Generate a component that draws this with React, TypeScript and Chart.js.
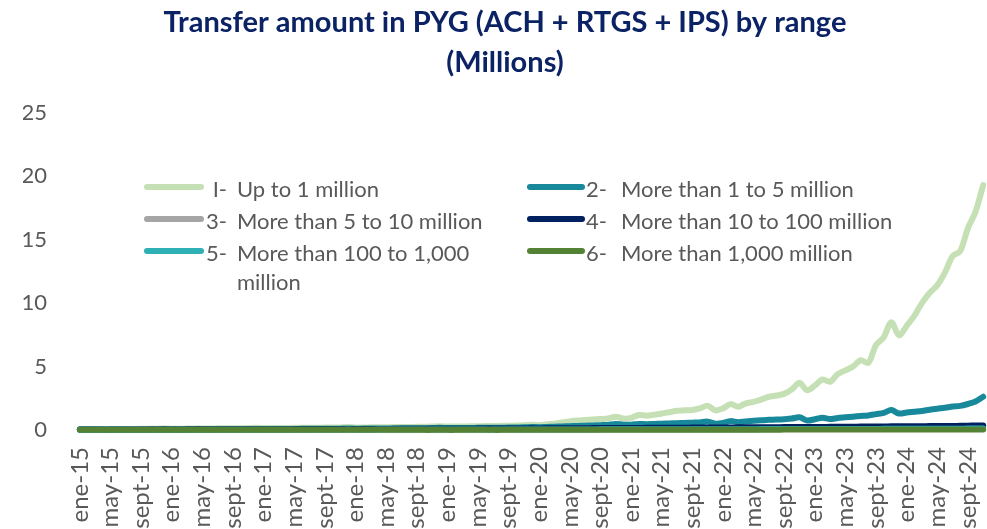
import React, { useEffect, useRef } from 'react';
import { Chart, registerables } from 'chart.js';

Chart.register(...registerables);

// ---- Data ----
const MONTHS = ['ene', 'feb', 'mar', 'abr', 'may', 'jun', 'jul', 'ago', 'sept', 'oct', 'nov', 'dic'];
const YEARS = ['15', '16', '17', '18', '19', '20', '21', '22', '23', '24'];
const MONTHS_IN_LAST_YEAR = 11; // data ends nov-24

const TITLE_LINES = ['Transfer amount in PYG (ACH + RTGS + IPS) by range', '(Millions)'];
const Y_TICKS = [0, 5, 10, 15, 20, 25];

const SERIES_PREFIX = ['I-', '2-', '3-', '4-', '5-', '6-'];
const SERIES_NAMES = [
  'Up to 1 million',
  'More than 1 to 5 million',
  'More than 5 to 10 million',
  'More than 10 to 100 million',
  'More than 100 to 1,000 million',
  'More than 1,000 million',
];
const SERIES_COLORS = ['#C5E0B4', '#17899A', '#A5A5A5', '#002060', '#2FB0B4', '#548235'];

const S1 = [
  0.05, 0.05, 0.06, 0.06, 0.07, 0.07, 0.08, 0.08, 0.09, 0.09, 0.10, 0.12,
  0.10, 0.10, 0.11, 0.11, 0.12, 0.12, 0.13, 0.13, 0.14, 0.14, 0.15, 0.17,
  0.15, 0.15, 0.16, 0.16, 0.17, 0.17, 0.18, 0.18, 0.19, 0.19, 0.20, 0.23,
  0.20, 0.20, 0.21, 0.22, 0.22, 0.23, 0.24, 0.24, 0.25, 0.26, 0.27, 0.30,
  0.27, 0.27, 0.28, 0.29, 0.30, 0.31, 0.32, 0.33, 0.34, 0.35, 0.37, 0.42,
  0.38, 0.45, 0.50, 0.60, 0.68, 0.74, 0.78, 0.82, 0.86, 0.90, 1.05, 0.90,
  0.95, 1.18, 1.13, 1.20, 1.30, 1.40, 1.52, 1.55, 1.58, 1.70, 1.92, 1.55,
  1.70, 2.04, 1.83, 2.10, 2.22, 2.40, 2.62, 2.72, 2.85, 3.20, 3.72, 3.14,
  3.50, 3.98, 3.80, 4.40, 4.70, 5.00, 5.50, 5.29, 6.70, 7.30, 8.50, 7.47,
  8.20, 9.00, 10.00, 10.80, 11.40, 12.40, 13.70, 14.10, 15.90, 17.20, 19.30,
];
const S2 = [
  0.03, 0.03, 0.03, 0.03, 0.04, 0.04, 0.04, 0.04, 0.04, 0.05, 0.05, 0.06,
  0.05, 0.05, 0.05, 0.06, 0.06, 0.06, 0.06, 0.07, 0.07, 0.07, 0.07, 0.08,
  0.07, 0.07, 0.08, 0.08, 0.08, 0.09, 0.09, 0.09, 0.10, 0.10, 0.10, 0.12,
  0.10, 0.11, 0.11, 0.12, 0.12, 0.12, 0.13, 0.13, 0.14, 0.14, 0.15, 0.17,
  0.15, 0.15, 0.16, 0.16, 0.17, 0.17, 0.18, 0.18, 0.19, 0.20, 0.21, 0.24,
  0.22, 0.24, 0.26, 0.28, 0.30, 0.32, 0.34, 0.36, 0.38, 0.40, 0.48, 0.42,
  0.42, 0.48, 0.46, 0.48, 0.50, 0.52, 0.54, 0.56, 0.58, 0.60, 0.66, 0.50,
  0.55, 0.70, 0.62, 0.68, 0.72, 0.76, 0.80, 0.82, 0.85, 0.90, 1.00, 0.75,
  0.85, 0.97, 0.86, 0.95, 1.00, 1.05, 1.10, 1.15, 1.25, 1.35, 1.57, 1.30,
  1.38, 1.44, 1.50, 1.60, 1.68, 1.75, 1.85, 1.90, 2.05, 2.25, 2.62,
];
const S3 = [
  0.02, 0.02, 0.02, 0.02, 0.02, 0.02, 0.03, 0.03, 0.03, 0.03, 0.03, 0.03,
  0.03, 0.03, 0.03, 0.03, 0.03, 0.03, 0.03, 0.04, 0.04, 0.04, 0.04, 0.04,
  0.04, 0.04, 0.04, 0.04, 0.04, 0.04, 0.05, 0.05, 0.05, 0.05, 0.05, 0.05,
  0.05, 0.05, 0.05, 0.05, 0.06, 0.06, 0.06, 0.06, 0.06, 0.06, 0.06, 0.07,
  0.06, 0.06, 0.07, 0.07, 0.07, 0.07, 0.07, 0.07, 0.08, 0.08, 0.08, 0.08,
  0.08, 0.08, 0.08, 0.08, 0.09, 0.09, 0.09, 0.09, 0.09, 0.10, 0.10, 0.10,
  0.10, 0.10, 0.10, 0.11, 0.11, 0.11, 0.11, 0.12, 0.12, 0.12, 0.12, 0.12,
  0.12, 0.13, 0.13, 0.13, 0.13, 0.14, 0.14, 0.14, 0.14, 0.15, 0.15, 0.15,
  0.15, 0.15, 0.16, 0.16, 0.16, 0.16, 0.17, 0.17, 0.17, 0.18, 0.18, 0.18,
  0.18, 0.19, 0.19, 0.19, 0.20, 0.20, 0.20, 0.21, 0.21, 0.22, 0.22,
];
const S4 = [
  0.03, 0.03, 0.03, 0.03, 0.03, 0.04, 0.04, 0.04, 0.04, 0.04, 0.04, 0.05,
  0.04, 0.04, 0.05, 0.05, 0.05, 0.05, 0.05, 0.05, 0.06, 0.06, 0.06, 0.06,
  0.06, 0.06, 0.06, 0.06, 0.07, 0.07, 0.07, 0.07, 0.07, 0.07, 0.08, 0.08,
  0.08, 0.08, 0.08, 0.08, 0.08, 0.09, 0.09, 0.09, 0.09, 0.09, 0.10, 0.10,
  0.10, 0.10, 0.10, 0.10, 0.11, 0.11, 0.11, 0.11, 0.12, 0.12, 0.12, 0.13,
  0.12, 0.13, 0.13, 0.13, 0.14, 0.14, 0.14, 0.15, 0.15, 0.15, 0.16, 0.16,
  0.16, 0.16, 0.17, 0.17, 0.17, 0.18, 0.18, 0.18, 0.19, 0.19, 0.20, 0.19,
  0.20, 0.20, 0.21, 0.21, 0.21, 0.22, 0.22, 0.22, 0.23, 0.23, 0.24, 0.23,
  0.24, 0.24, 0.25, 0.25, 0.26, 0.26, 0.27, 0.27, 0.28, 0.28, 0.29, 0.29,
  0.29, 0.30, 0.30, 0.31, 0.31, 0.32, 0.32, 0.33, 0.34, 0.35, 0.36,
];
const S5 = [
  0.01, 0.01, 0.01, 0.01, 0.01, 0.01, 0.01, 0.01, 0.01, 0.01, 0.01, 0.02,
  0.01, 0.01, 0.01, 0.01, 0.01, 0.02, 0.02, 0.02, 0.02, 0.02, 0.02, 0.02,
  0.02, 0.02, 0.02, 0.02, 0.02, 0.02, 0.02, 0.02, 0.02, 0.02, 0.02, 0.03,
  0.02, 0.02, 0.02, 0.03, 0.03, 0.03, 0.03, 0.03, 0.03, 0.03, 0.03, 0.03,
  0.03, 0.03, 0.03, 0.03, 0.03, 0.03, 0.03, 0.04, 0.04, 0.04, 0.04, 0.04,
  0.04, 0.04, 0.04, 0.04, 0.04, 0.04, 0.04, 0.04, 0.05, 0.05, 0.05, 0.05,
  0.05, 0.05, 0.05, 0.05, 0.05, 0.05, 0.05, 0.06, 0.06, 0.06, 0.06, 0.06,
  0.06, 0.06, 0.06, 0.06, 0.06, 0.07, 0.07, 0.07, 0.07, 0.07, 0.07, 0.07,
  0.07, 0.07, 0.08, 0.08, 0.08, 0.08, 0.08, 0.08, 0.08, 0.09, 0.09, 0.09,
  0.09, 0.09, 0.09, 0.10, 0.10, 0.10, 0.10, 0.10, 0.11, 0.11, 0.11,
];
const S6 = [
  0.01, 0.01, 0.01, 0.01, 0.01, 0.01, 0.01, 0.01, 0.01, 0.01, 0.01, 0.01,
  0.01, 0.01, 0.01, 0.01, 0.01, 0.01, 0.01, 0.01, 0.01, 0.01, 0.01, 0.01,
  0.01, 0.01, 0.01, 0.01, 0.01, 0.01, 0.01, 0.01, 0.01, 0.01, 0.01, 0.01,
  0.01, 0.01, 0.01, 0.01, 0.01, 0.01, 0.01, 0.01, 0.01, 0.01, 0.01, 0.02,
  0.01, 0.01, 0.01, 0.01, 0.01, 0.01, 0.01, 0.01, 0.02, 0.02, 0.02, 0.02,
  0.02, 0.02, 0.02, 0.02, 0.02, 0.02, 0.02, 0.02, 0.02, 0.02, 0.02, 0.02,
  0.02, 0.02, 0.02, 0.02, 0.02, 0.02, 0.02, 0.02, 0.02, 0.02, 0.02, 0.02,
  0.02, 0.02, 0.02, 0.02, 0.02, 0.02, 0.02, 0.02, 0.03, 0.03, 0.03, 0.03,
  0.03, 0.03, 0.03, 0.03, 0.03, 0.03, 0.03, 0.03, 0.03, 0.03, 0.03, 0.03,
  0.03, 0.03, 0.03, 0.03, 0.03, 0.03, 0.03, 0.03, 0.03, 0.03, 0.03,
];
const SERIES_VALUES = [S1, S2, S3, S4, S5, S6];

// Category labels: ene-15 ... nov-24
const CATEGORIES: string[] = [];
YEARS.forEach((yy, yi) => {
  MONTHS.forEach((mm, mi) => {
    if (yi === YEARS.length - 1 && mi >= MONTHS_IN_LAST_YEAR) return;
    CATEGORIES.push(`${mm}-${yy}`);
  });
});

const TEXT_GRAY = '#595959';
const TITLE_COLOR = '#0B2265';
const FONT = 'Lato';

const legendPlugin = {
  id: 'customLegend',
  afterDraw(chart: any) {
    const ctx = chart.ctx as CanvasRenderingContext2D;
    ctx.save();
    const cols = [
      { x0: 147, x1: 201, prefixRight: 227, textX: 237, maxW: 262 },
      { x0: 530, x1: 582, prefixRight: 607, textX: 621, maxW: 360 },
    ];
    const rowY = [187, 219, 251];
    ctx.font = `22px ${FONT}`;
    SERIES_NAMES.forEach((name, i) => {
      const col = cols[i % 2];
      const y = rowY[Math.floor(i / 2)];
      ctx.strokeStyle = SERIES_COLORS[i];
      ctx.lineWidth = 6;
      ctx.lineCap = 'round';
      ctx.beginPath();
      ctx.moveTo(col.x0, y);
      ctx.lineTo(col.x1, y);
      ctx.stroke();
      ctx.fillStyle = TEXT_GRAY;
      ctx.textBaseline = 'alphabetic';
      ctx.textAlign = 'right';
      ctx.fillText(SERIES_PREFIX[i], col.prefixRight, y + 10);
      ctx.textAlign = 'left';
      const words = name.split(' ');
      const lines: string[] = [];
      let cur = '';
      words.forEach((w) => {
        const test = cur ? cur + ' ' + w : w;
        if (ctx.measureText(test).width > col.maxW && cur) {
          lines.push(cur);
          cur = w;
        } else cur = test;
      });
      if (cur) lines.push(cur);
      lines.forEach((ln, li) => ctx.fillText(ln, col.textX, y + 10 + li * 29));
    });
    ctx.restore();
  },
};

export default function App() {
  const ref = useRef<HTMLCanvasElement | null>(null);
  useEffect(() => {
    document.body.style.margin = '0';
    const canvas = ref.current!;
    const chart = new Chart(canvas, {
      type: 'line',
      data: {
        labels: CATEGORIES,
        datasets: SERIES_VALUES.map((vals, i) => ({
          label: SERIES_NAMES[i],
          data: vals,
          borderColor: SERIES_COLORS[i],
          backgroundColor: SERIES_COLORS[i],
          borderWidth: 6,
          pointRadius: 0,
          tension: 0.3,
          borderCapStyle: 'round' as const,
          borderJoinStyle: 'round' as const,
          order: SERIES_VALUES.length - i,
          clip: false as any,
        })),
      },
      options: {
        animation: false,
        responsive: false,
        layout: { padding: { left: 23, right: 0, top: 0, bottom: 0 } },
        plugins: {
          legend: { display: false },
          tooltip: { enabled: false },
          title: {
            display: true,
            text: TITLE_LINES,
            color: TITLE_COLOR,
            font: { family: FONT, size: 29, weight: 'bold', lineHeight: 1.36 },
            padding: { top: 3, bottom: 31 },
          },
        },
        scales: {
          x: {
            type: 'category',
            offset: true,
            grid: { display: false, drawTicks: false },
            border: { display: false },
            ticks: {
              autoSkip: false,
              minRotation: 90,
              maxRotation: 90,
              padding: 17,
              color: TEXT_GRAY,
              font: { family: FONT, size: 24 },
              callback: function (this: any, val: any, idx: number) {
                return idx % 4 === 0 ? this.getLabelForValue(val) : '';
              },
            },
            afterFit: (s: any) => {
              s.height = 99;
              s.paddingLeft = 0;
              s.paddingRight = 0;
            },
          },
          y: {
            min: Y_TICKS[0],
            max: Y_TICKS[Y_TICKS.length - 1],
            grid: { display: false, drawTicks: false },
            border: { display: false },
            ticks: {
              stepSize: Y_TICKS[1] - Y_TICKS[0],
              padding: 29,
              color: TEXT_GRAY,
              font: { family: FONT, size: 22 },
            },
            afterFit: (s: any) => {
              s.width = 53;
              s.paddingTop = 0;
              s.paddingBottom = 0;
            },
          },
        },
      },
      plugins: [legendPlugin],
    });
    return () => chart.destroy();
  }, []);
  return (
    <canvas
      ref={ref}
      width={987}
      height={529}
      style={{ display: 'block', width: '987px', height: '529px' }}
    />
  );
}
